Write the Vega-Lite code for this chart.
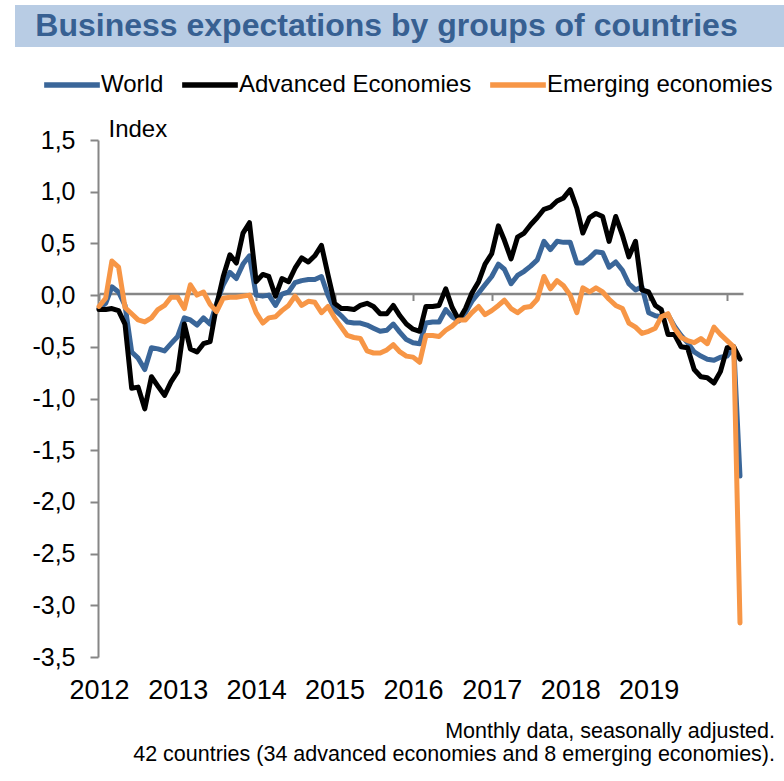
{
  "$schema": "https://vega.github.io/schema/vega-lite/v6.json",
  "padding": {"left": 15, "top": 5, "right": 0, "bottom": 0},
  "background": "white",
  "spacing": 7,
  "config": {"font": "Liberation Sans", "view": {"stroke": null}},
  "resolve": {"legend": {"color": "independent"}},
  "vconcat": [
    {
      "width": 769,
      "height": 42,
      "view": {"fill": "#b8cce4", "stroke": null},
      "data": {"values": [{"t": "Business expectations by groups of countries"}]},
      "mark": {"type": "text", "fontSize": 32, "fontWeight": "bold", "color": "#376092", "dx": -13, "baseline": "middle"},
      "encoding": {"text": {"field": "t", "type": "nominal"}}
    },
    {
      "width": 760,
      "height": 517,
      "title": {
        "text": ["Monthly data, seasonally adjusted.", "42 countries (34 advanced economies and 8 emerging economies)."],
        "orient": "bottom", "anchor": "end", "frame": "group", "align": "right",
        "fontSize": 21.5, "fontWeight": "normal", "color": "black", "offset": 18, "lineHeight": 23
      },
      "layer": [
        {
          "data": {"values": [{"z": 0}]},
          "mark": {"type": "rule", "color": "#868686", "strokeWidth": 0},
          "encoding": {
            "x": {"datum": {"year": 2012, "month": 1, "date": 1, "utc": true}, "type": "temporal",
              "scale": {"type": "utc", "domain": [{"year": 2012, "month": 1, "date": 1, "utc": true}, {"year": 2020, "month": 3, "date": 15, "utc": true}], "range": [84, 728]},
              "axis": {"orient": "bottom", "offset": -363.5, "title": null, "labels": false, "grid": false,
                "domain": true, "domainColor": "#868686", "domainWidth": 2.5,
                "ticks": true, "tickSize": 7, "tickColor": "#868686", "tickWidth": 2,
                "values": [{"year": 2012, "month": 1, "date": 1, "utc": true}, {"year": 2013, "month": 1, "date": 1, "utc": true}, {"year": 2014, "month": 1, "date": 1, "utc": true}, {"year": 2015, "month": 1, "date": 1, "utc": true}, {"year": 2016, "month": 1, "date": 1, "utc": true}, {"year": 2017, "month": 1, "date": 1, "utc": true}, {"year": 2018, "month": 1, "date": 1, "utc": true}, {"year": 2019, "month": 1, "date": 1, "utc": true}, {"year": 2020, "month": 1, "date": 1, "utc": true}]}
            },
            "y": {"datum": 0, "type": "quantitative"}
          }
        },
        {
          "data": {"values": [
            {"d": "2012-01-01", "World": -0.13, "Advanced Economies": -0.14, "Emerging economies": -0.11},
            {"d": "2012-02-01", "World": -0.08, "Advanced Economies": -0.14, "Emerging economies": -0.03},
            {"d": "2012-03-01", "World": 0.08, "Advanced Economies": -0.13, "Emerging economies": 0.33},
            {"d": "2012-04-01", "World": 0.03, "Advanced Economies": -0.15, "Emerging economies": 0.27},
            {"d": "2012-05-01", "World": -0.10, "Advanced Economies": -0.28, "Emerging economies": -0.12},
            {"d": "2012-06-01", "World": -0.55, "Advanced Economies": -0.90, "Emerging economies": -0.18},
            {"d": "2012-07-01", "World": -0.61, "Advanced Economies": -0.89, "Emerging economies": -0.24},
            {"d": "2012-08-01", "World": -0.72, "Advanced Economies": -1.10, "Emerging economies": -0.26},
            {"d": "2012-09-01", "World": -0.51, "Advanced Economies": -0.79, "Emerging economies": -0.22},
            {"d": "2012-10-01", "World": -0.52, "Advanced Economies": -0.88, "Emerging economies": -0.14},
            {"d": "2012-11-01", "World": -0.54, "Advanced Economies": -0.97, "Emerging economies": -0.10},
            {"d": "2012-12-01", "World": -0.47, "Advanced Economies": -0.84, "Emerging economies": -0.02},
            {"d": "2013-01-01", "World": -0.40, "Advanced Economies": -0.74, "Emerging economies": -0.02},
            {"d": "2013-02-01", "World": -0.22, "Advanced Economies": -0.28, "Emerging economies": -0.13},
            {"d": "2013-03-01", "World": -0.24, "Advanced Economies": -0.52, "Emerging economies": 0.10},
            {"d": "2013-04-01", "World": -0.29, "Advanced Economies": -0.55, "Emerging economies": 0.00},
            {"d": "2013-05-01", "World": -0.22, "Advanced Economies": -0.47, "Emerging economies": 0.03},
            {"d": "2013-06-01", "World": -0.28, "Advanced Economies": -0.45, "Emerging economies": -0.09},
            {"d": "2013-07-01", "World": -0.08, "Advanced Economies": -0.10, "Emerging economies": -0.16},
            {"d": "2013-08-01", "World": 0.10, "Advanced Economies": 0.18, "Emerging economies": -0.03},
            {"d": "2013-09-01", "World": 0.22, "Advanced Economies": 0.39, "Emerging economies": -0.02},
            {"d": "2013-10-01", "World": 0.16, "Advanced Economies": 0.31, "Emerging economies": -0.02},
            {"d": "2013-11-01", "World": 0.30, "Advanced Economies": 0.60, "Emerging economies": -0.01},
            {"d": "2013-12-01", "World": 0.38, "Advanced Economies": 0.70, "Emerging economies": 0.00},
            {"d": "2014-01-01", "World": 0.00, "Advanced Economies": 0.13, "Emerging economies": -0.17},
            {"d": "2014-02-01", "World": -0.01, "Advanced Economies": 0.20, "Emerging economies": -0.27},
            {"d": "2014-03-01", "World": 0.00, "Advanced Economies": 0.18, "Emerging economies": -0.22},
            {"d": "2014-04-01", "World": -0.10, "Advanced Economies": -0.01, "Emerging economies": -0.21},
            {"d": "2014-05-01", "World": 0.01, "Advanced Economies": 0.16, "Emerging economies": -0.15},
            {"d": "2014-06-01", "World": 0.03, "Advanced Economies": 0.13, "Emerging economies": -0.10},
            {"d": "2014-07-01", "World": 0.12, "Advanced Economies": 0.26, "Emerging economies": -0.01},
            {"d": "2014-08-01", "World": 0.14, "Advanced Economies": 0.36, "Emerging economies": -0.10},
            {"d": "2014-09-01", "World": 0.15, "Advanced Economies": 0.32, "Emerging economies": -0.06},
            {"d": "2014-10-01", "World": 0.15, "Advanced Economies": 0.38, "Emerging economies": -0.07},
            {"d": "2014-11-01", "World": 0.18, "Advanced Economies": 0.48, "Emerging economies": -0.17},
            {"d": "2014-12-01", "World": 0.00, "Advanced Economies": 0.20, "Emerging economies": -0.11},
            {"d": "2015-01-01", "World": -0.14, "Advanced Economies": -0.08, "Emerging economies": -0.22},
            {"d": "2015-02-01", "World": -0.20, "Advanced Economies": -0.13, "Emerging economies": -0.31},
            {"d": "2015-03-01", "World": -0.26, "Advanced Economies": -0.13, "Emerging economies": -0.39},
            {"d": "2015-04-01", "World": -0.27, "Advanced Economies": -0.14, "Emerging economies": -0.41},
            {"d": "2015-05-01", "World": -0.27, "Advanced Economies": -0.10, "Emerging economies": -0.42},
            {"d": "2015-06-01", "World": -0.29, "Advanced Economies": -0.08, "Emerging economies": -0.54},
            {"d": "2015-07-01", "World": -0.32, "Advanced Economies": -0.11, "Emerging economies": -0.56},
            {"d": "2015-08-01", "World": -0.35, "Advanced Economies": -0.18, "Emerging economies": -0.56},
            {"d": "2015-09-01", "World": -0.34, "Advanced Economies": -0.18, "Emerging economies": -0.53},
            {"d": "2015-10-01", "World": -0.28, "Advanced Economies": -0.10, "Emerging economies": -0.48},
            {"d": "2015-11-01", "World": -0.36, "Advanced Economies": -0.20, "Emerging economies": -0.55},
            {"d": "2015-12-01", "World": -0.43, "Advanced Economies": -0.28, "Emerging economies": -0.59},
            {"d": "2016-01-01", "World": -0.46, "Advanced Economies": -0.33, "Emerging economies": -0.60},
            {"d": "2016-02-01", "World": -0.47, "Advanced Economies": -0.35, "Emerging economies": -0.65},
            {"d": "2016-03-01", "World": -0.27, "Advanced Economies": -0.11, "Emerging economies": -0.39},
            {"d": "2016-04-01", "World": -0.26, "Advanced Economies": -0.11, "Emerging economies": -0.39},
            {"d": "2016-05-01", "World": -0.26, "Advanced Economies": -0.10, "Emerging economies": -0.40},
            {"d": "2016-06-01", "World": -0.14, "Advanced Economies": 0.06, "Emerging economies": -0.34},
            {"d": "2016-07-01", "World": -0.21, "Advanced Economies": -0.12, "Emerging economies": -0.30},
            {"d": "2016-08-01", "World": -0.25, "Advanced Economies": -0.24, "Emerging economies": -0.24},
            {"d": "2016-09-01", "World": -0.17, "Advanced Economies": -0.13, "Emerging economies": -0.24},
            {"d": "2016-10-01", "World": -0.06, "Advanced Economies": 0.02, "Emerging economies": -0.17},
            {"d": "2016-11-01", "World": 0.02, "Advanced Economies": 0.13, "Emerging economies": -0.11},
            {"d": "2016-12-01", "World": 0.10, "Advanced Economies": 0.30, "Emerging economies": -0.19},
            {"d": "2017-01-01", "World": 0.18, "Advanced Economies": 0.40, "Emerging economies": -0.15},
            {"d": "2017-02-01", "World": 0.30, "Advanced Economies": 0.67, "Emerging economies": -0.10},
            {"d": "2017-03-01", "World": 0.25, "Advanced Economies": 0.53, "Emerging economies": -0.05},
            {"d": "2017-04-01", "World": 0.11, "Advanced Economies": 0.35, "Emerging economies": -0.13},
            {"d": "2017-05-01", "World": 0.19, "Advanced Economies": 0.56, "Emerging economies": -0.17},
            {"d": "2017-06-01", "World": 0.23, "Advanced Economies": 0.60, "Emerging economies": -0.12},
            {"d": "2017-07-01", "World": 0.28, "Advanced Economies": 0.68, "Emerging economies": -0.11},
            {"d": "2017-08-01", "World": 0.34, "Advanced Economies": 0.75, "Emerging economies": -0.04},
            {"d": "2017-09-01", "World": 0.52, "Advanced Economies": 0.83, "Emerging economies": 0.18},
            {"d": "2017-10-01", "World": 0.44, "Advanced Economies": 0.85, "Emerging economies": 0.06},
            {"d": "2017-11-01", "World": 0.52, "Advanced Economies": 0.91, "Emerging economies": 0.14},
            {"d": "2017-12-01", "World": 0.51, "Advanced Economies": 0.94, "Emerging economies": 0.09},
            {"d": "2018-01-01", "World": 0.51, "Advanced Economies": 1.02, "Emerging economies": 0.00},
            {"d": "2018-02-01", "World": 0.31, "Advanced Economies": 0.84, "Emerging economies": -0.17},
            {"d": "2018-03-01", "World": 0.31, "Advanced Economies": 0.60, "Emerging economies": 0.07},
            {"d": "2018-04-01", "World": 0.36, "Advanced Economies": 0.75, "Emerging economies": 0.03},
            {"d": "2018-05-01", "World": 0.42, "Advanced Economies": 0.79, "Emerging economies": 0.07},
            {"d": "2018-06-01", "World": 0.41, "Advanced Economies": 0.76, "Emerging economies": 0.03},
            {"d": "2018-07-01", "World": 0.27, "Advanced Economies": 0.52, "Emerging economies": -0.04},
            {"d": "2018-08-01", "World": 0.32, "Advanced Economies": 0.76, "Emerging economies": -0.10},
            {"d": "2018-09-01", "World": 0.24, "Advanced Economies": 0.58, "Emerging economies": -0.13},
            {"d": "2018-10-01", "World": 0.11, "Advanced Economies": 0.37, "Emerging economies": -0.27},
            {"d": "2018-11-01", "World": 0.05, "Advanced Economies": 0.52, "Emerging economies": -0.31},
            {"d": "2018-12-01", "World": 0.08, "Advanced Economies": 0.05, "Emerging economies": -0.37},
            {"d": "2019-01-01", "World": -0.17, "Advanced Economies": 0.03, "Emerging economies": -0.35},
            {"d": "2019-02-01", "World": -0.20, "Advanced Economies": -0.10, "Emerging economies": -0.32},
            {"d": "2019-03-01", "World": -0.21, "Advanced Economies": -0.14, "Emerging economies": -0.21},
            {"d": "2019-04-01", "World": -0.19, "Advanced Economies": -0.38, "Emerging economies": -0.18},
            {"d": "2019-05-01", "World": -0.30, "Advanced Economies": -0.38, "Emerging economies": -0.32},
            {"d": "2019-06-01", "World": -0.39, "Advanced Economies": -0.50, "Emerging economies": -0.41},
            {"d": "2019-07-01", "World": -0.46, "Advanced Economies": -0.51, "Emerging economies": -0.44},
            {"d": "2019-08-01", "World": -0.55, "Advanced Economies": -0.72, "Emerging economies": -0.46},
            {"d": "2019-09-01", "World": -0.59, "Advanced Economies": -0.79, "Emerging economies": -0.42},
            {"d": "2019-10-01", "World": -0.62, "Advanced Economies": -0.80, "Emerging economies": -0.47},
            {"d": "2019-11-01", "World": -0.63, "Advanced Economies": -0.85, "Emerging economies": -0.31},
            {"d": "2019-12-01", "World": -0.60, "Advanced Economies": -0.74, "Emerging economies": -0.38},
            {"d": "2020-01-01", "World": -0.59, "Advanced Economies": -0.51, "Emerging economies": -0.44},
            {"d": "2020-02-01", "World": -0.50, "Advanced Economies": -0.50, "Emerging economies": -0.50},
            {"d": "2020-03-01", "World": -1.75, "Advanced Economies": -0.62, "Emerging economies": -3.17}
          ]},
          "transform": [{"fold": ["World", "Advanced Economies", "Emerging economies"], "as": ["series", "value"]}],
          "mark": {"type": "line", "strokeWidth": 5, "strokeJoin": "round", "strokeCap": "round"},
          "encoding": {
            "x": {"field": "d", "type": "temporal",
              "axis": {"orient": "bottom", "title": null, "format": "%Y", "formatType": "utc", "grid": false,
                "domain": false, "ticks": false, "tickSize": 0, "labelFontSize": 27, "labelColor": "black",
                "labelPadding": 20, "labelFlush": false, "labelOverlap": false,
                "values": [{"year": 2012, "month": 1, "date": 1, "utc": true}, {"year": 2013, "month": 1, "date": 1, "utc": true}, {"year": 2014, "month": 1, "date": 1, "utc": true}, {"year": 2015, "month": 1, "date": 1, "utc": true}, {"year": 2016, "month": 1, "date": 1, "utc": true}, {"year": 2017, "month": 1, "date": 1, "utc": true}, {"year": 2018, "month": 1, "date": 1, "utc": true}, {"year": 2019, "month": 1, "date": 1, "utc": true}]}
            },
            "y": {"field": "value", "type": "quantitative",
              "scale": {"domain": [-3.5, 1.5], "nice": false, "zero": false},
              "axis": {"orient": "left", "offset": -83, "values": [-3.5, -3, -2.5, -2, -1.5, -1, -0.5, 0, 0.5, 1, 1.5],
                "labelExpr": "replace(replace(format(datum.value, '.1f'), '.', ','), '\u2212', '-')",
                "labelFontSize": 25, "labelColor": "black", "labelPadding": 15,
                "tickSize": 8, "tickColor": "#868686", "tickWidth": 2,
                "domainColor": "#868686", "domainWidth": 2, "grid": false,
                "title": "Index", "titleAngle": 0, "titleAlign": "left", "titleBaseline": "alphabetic",
                "titleX": 10, "titleY": -4, "titleFontSize": 24, "titleFontWeight": "normal", "titleColor": "black"}
            },
            "color": {"field": "series", "type": "nominal",
              "scale": {"domain": ["World", "Advanced Economies", "Emerging economies"], "range": ["#3a6699", "#000000", "#f79646"]},
              "legend": {"orient": "none", "legendX": 26, "legendY": -86, "direction": "horizontal", "title": null,
                "symbolType": "stroke", "symbolSize": 3100, "symbolStrokeWidth": 5.5,
                "labelFontSize": 24, "labelLimit": 500, "labelColor": "black", "labelOffset": -2, "columnPadding": 7}
            }
          }
        }
      ],
      "resolve": {"axis": {"x": "independent"}}
    }
  ]
}
